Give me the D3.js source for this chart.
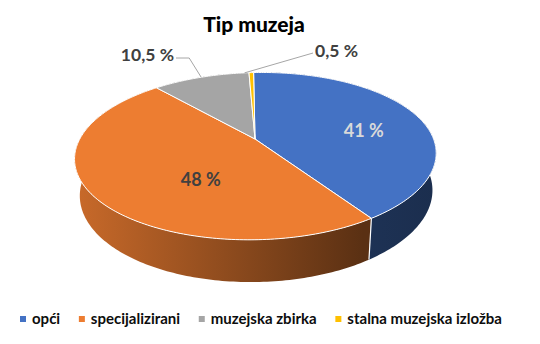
<!DOCTYPE html>
<html lang="hr">
    <head>
        <meta charset="utf-8">
        <title>Tip muzeja</title>
        <script src="https://d3js.org/d3.v7.min.js"></script>
        <style type="text/css">
            body { margin: 0; background: #fff; }
            text { font-family: Lato, "Noto Sans", sans-serif; }
        </style>
    </head>
    <body>
        <script>
            // data
            var categories = ["opći", "specijalizirani", "muzejska zbirka", "stalna muzejska izložba"];
            var values = [41, 48, 10.5, 0.5];
            var valueLabels = ["41 %", "48 %", "10,5 %", "0,5 %"];
            var colors = ["#4472C4", "#ED7D31", "#A5A5A5", "#FFC000"];

            // configuration code
            var width = 540, height = 344;
            var cx = 255, cy = 139;       // projected pie centre
            var k = 770, dist = 4.35;     // perspective
            var tilt = 26.9 * Math.PI / 180;
            var roll = 1.2 * Math.PI / 180;
            var thick = 0.235;            // pie thickness (radius = 1)

            var sinT = Math.sin(tilt), cosT = Math.cos(tilt);
            var sinR = Math.sin(roll), cosR = Math.cos(roll);

            // 3D point on the pie (r, angle, y) -> screen
            function project(r, a, y) {
                var X = r * Math.sin(a), Z = r * Math.cos(a);
                var Yp = y * cosT + Z * sinT;
                var Zp = Z * cosT - y * sinT;
                var dx = k * X / (dist + Zp), dy = -k * Yp / (dist + Zp);
                return [cx + dx * cosR + dy * sinR, cy - dx * sinR + dy * cosR];
            }

            function arcPoints(a0, a1, y) {
                var n = Math.max(2, Math.ceil((a1 - a0) / (Math.PI / 180)));
                var pts = [];
                for (var i = 0; i <= n; i++) pts.push(project(1, a0 + (a1 - a0) * i / n, y));
                return pts;
            }

            var svg = d3.select("body")
                .append("svg")
                .attr("width", width)
                .attr("height", height);

            var pie = d3.pie().sort(null).value(function(d) { return d; });
            var arcs = pie(values);

            var line = d3.line();
            var defs = svg.append("defs");

            // side wall shading: horizontal gradient, darker to the right
            var wallShade = [[0.47, 0.4], [0.85, 0.38], [0.6, 0.45], [0.6, 0.45]];
            arcs.forEach(function(d, i) {
                var g = defs.append("linearGradient")
                    .attr("id", "wall" + i)
                    .attr("gradientUnits", "userSpaceOnUse")
                    .attr("x1", cx - 181).attr("x2", cx + 181)
                    .attr("y1", 0).attr("y2", 0);
                var c = d3.rgb(colors[i]);
                function sc(f) { return d3.rgb(c.r * f, c.g * f, c.b * f); }
                if (i === 0) {
                    g.append("stop").attr("offset", 0.6).attr("stop-color", sc(wallShade[i][0]));
                    g.append("stop").attr("offset", 1).attr("stop-color", sc(wallShade[i][1]));
                } else {
                    g.append("stop").attr("offset", 0).attr("stop-color", sc(wallShade[i][0]));
                    g.append("stop").attr("offset", 0.8).attr("stop-color", sc(wallShade[i][1]));
                }
            });

            // side walls (back ones are hidden by the top face)
            var walls = svg.append("g");
            arcs.slice().reverse().forEach(function(d) {
                var i = d.index;
                var top = arcPoints(d.startAngle, d.endAngle, 0);
                var bot = arcPoints(d.startAngle, d.endAngle, -thick).reverse();
                walls.append("path")
                    .attr("d", line(top.concat(bot)) + "Z")
                    .attr("fill", "url(#wall" + i + ")");
            });
            arcs.forEach(function(d) {
                walls.append("path")
                    .attr("d", line([project(1, d.startAngle, 0), project(1, d.startAngle, -thick)]))
                    .attr("stroke", "#fff")
                    .attr("stroke-width", 1.2);
            });

            // top face
            var topFace = svg.append("g");
            arcs.forEach(function(d) {
                var pts = [project(0, 0, 0)].concat(arcPoints(d.startAngle, d.endAngle, 0));
                topFace.append("path")
                    .attr("d", line(pts) + "Z")
                    .attr("fill", colors[d.index])
                    .attr("stroke", "#fff")
                    .attr("stroke-width", 1)
                    .attr("stroke-linejoin", "round");
            });

            // inside labels
            var insideLabels = svg.append("g");
            [0, 1].forEach(function(i) {
                var d = arcs[i];
                var mid = (d.startAngle + d.endAngle) / 2 + (i === 0 ? 0.16 : -0.38);
                var p = project(i === 0 ? 0.63 : 0.53, mid, 0);
                insideLabels.append("text")
                    .attr("x", p[0])
                    .attr("y", p[1] + 6)
                    .attr("text-anchor", "middle")
                    .style("font-size", "18px")
                    .style("font-weight", "bold")
                    .style("fill", i === 0 ? "#D9D9D9" : "#404040")
                    .text(valueLabels[i]);
            });

            // outside labels with leader lines
            var outside = svg.append("g");
            var gray = arcs[2], gold = arcs[3];
            var pg = project(1, (gray.startAngle + gray.endAngle) / 2, 0);
            outside.append("path")
                .attr("d", line([pg, [pg[0] - 12, 58], [176, 58]]))
                .attr("fill", "none")
                .attr("stroke", "#A6A6A6")
                .attr("stroke-width", 1);
            outside.append("text")
                .attr("x", 174).attr("y", 61)
                .attr("text-anchor", "end")
                .style("font-size", "17.5px").style("font-weight", "bold").style("fill", "#404040")
                .text(valueLabels[2]);

            var pd = project(1, gold.startAngle - 0.03, 0);
            outside.append("path")
                .attr("d", line([pd, [313, 53]]))
                .attr("fill", "none")
                .attr("stroke", "#A6A6A6")
                .attr("stroke-width", 1);
            outside.append("text")
                .attr("x", 315).attr("y", 57)
                .style("font-size", "17.5px").style("font-weight", "bold").style("fill", "#404040")
                .text(valueLabels[3]);

            // title
            svg.append("text")
                .attr("x", 254).attr("y", 32)
                .attr("text-anchor", "middle")
                .style("font-size", "21px")
                .style("font-weight", "900")
                .style("fill", "#000")
                .text("Tip muzeja");

            // legend, spread between x=20 and x=502
            var legend = svg.append("g");
            var items = legend.selectAll(".legend")
                .data(categories)
                .enter()
                .append("g")
                .attr("class", "legend");
            items.append("rect")
                .attr("y", 316)
                .attr("width", 6).attr("height", 6)
                .style("fill", function(d, i) { return colors[i]; });
            items.append("text")
                .attr("x", 12)
                .attr("y", 324)
                .style("font-size", "15px")
                .style("font-weight", "bold")
                .style("fill", "#0d0d0d")
                .text(function(d) { return d; });

            var widths = [];
            items.each(function() { widths.push(12 + d3.select(this).select("text").node().getComputedTextLength()); });
            var total = d3.sum(widths);
            var gap = (482 - total) / (categories.length - 1);
            var xPos = 20;
            items.each(function(d, i) {
                d3.select(this).attr("transform", "translate(" + xPos + ",0)");
                xPos += widths[i] + gap;
            });
        </script>
    </body>
</html>
